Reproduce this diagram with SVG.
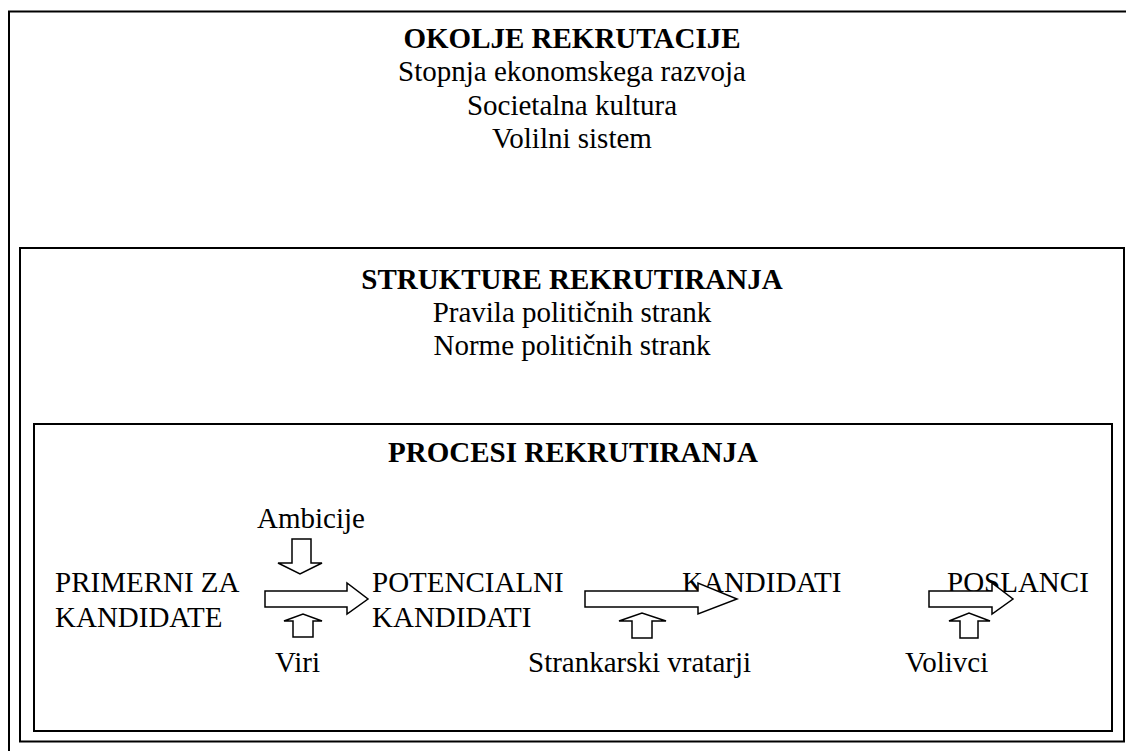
<svg xmlns="http://www.w3.org/2000/svg" width="1126" height="751" viewBox="0 0 1126 751">
<style>
.box{fill:none;stroke:#000;stroke-width:2}
.t{font-family:"Liberation Serif","Times New Roman",serif;font-size:29px;fill:#000}
.c{text-anchor:middle}
.b{font-weight:bold}
.ar{fill:#fff;stroke:#000;stroke-width:1.5;stroke-linejoin:miter}
</style>
<rect width="1126" height="751" fill="#fff"/>
<g id="okolje">
<rect class="box" x="9" y="11.5" width="1130" height="750"/>
<text class="t b c" x="572" y="48">OKOLJE REKRUTACIJE</text>
<text class="t c" x="572" y="81">Stopnja ekonomskega razvoja</text>
<text class="t c" x="572" y="115">Societalna kultura</text>
<text class="t c" x="572" y="148">Volilni sistem</text>
</g>
<g id="strukture">
<rect class="box" x="20" y="248" width="1104" height="493.5"/>
<text class="t b c" x="572" y="289">STRUKTURE REKRUTIRANJA</text>
<text class="t c" x="572" y="322">Pravila političnih strank</text>
<text class="t c" x="572" y="355">Norme političnih strank</text>
</g>
<g id="procesi">
<rect class="box" x="34" y="424" width="1078" height="307"/>
<text class="t b c" x="573" y="462">PROCESI REKRUTIRANJA</text>
</g>
<g id="primerni">
<text class="t" x="55" y="592">PRIMERNI ZA</text>
<text class="t" x="55" y="627">KANDIDATE</text>
</g>
<g id="potencialni">
<text class="t" x="372" y="592">POTENCIALNI</text>
<text class="t" x="372" y="627">KANDIDATI</text>
</g>
<g id="kandidati">
<text class="t" x="682" y="592">KANDIDATI</text>
</g>
<g id="poslanci">
<text class="t" x="947" y="592">POSLANCI</text>
</g>
<g id="ambicije"><text class="t" x="257" y="528">Ambicije</text></g>
<g id="viri"><text class="t" x="275" y="672">Viri</text></g>
<g id="vratarji"><text class="t" x="528" y="672">Strankarski vratarji</text></g>
<g id="volivci"><text class="t" x="905" y="672">Volivci</text></g>
<g id="connectors">
<path class="ar" d="M265,591 H347 V583 L368,599 L347,614 V607 H265 Z"/>
<path class="ar" d="M585,591 H698 V583 L737,599 L698,614 V607 H585 Z"/>
<path class="ar" d="M929,591 H992 V583 L1013,599 L992,614 V607 H929 Z"/>
<path class="ar" d="M292,539 H311 V563 H322 L300,574 L278,563 H292 Z"/>
<path class="ar" d="M293,637 V621 H284 L303,614 L322,621 H313 V637 Z"/>
<path class="ar" d="M632,638 V621 H619 L642,613 L666,621 H652 V638 Z"/>
<path class="ar" d="M960,638 V621 H949 L969,613 L990,621 H978 V638 Z"/>
</g>
</svg>
